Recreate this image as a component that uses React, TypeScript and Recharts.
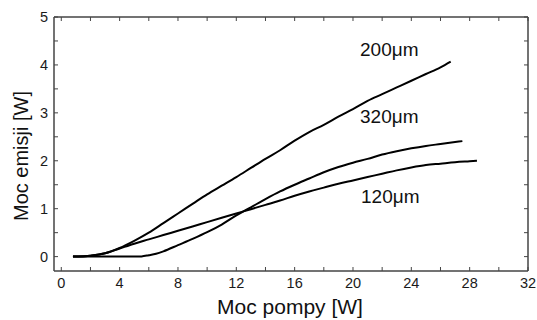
import React from 'react';
import { LineChart, Line, XAxis, YAxis } from 'recharts';

// Pump power [W] and emission power [W] for each fibre core diameter
const pump200 = [0.8, 1.5, 2, 3, 4, 5, 6, 7, 8, 9, 10, 11, 12, 13, 14, 15, 16, 17, 18, 19, 20, 21, 22, 23, 24, 25, 26, 26.7];
const emis200 = [0, 0.005, 0.02, 0.07, 0.18, 0.33, 0.5, 0.7, 0.9, 1.1, 1.3, 1.48, 1.66, 1.85, 2.04, 2.22, 2.42, 2.6, 2.75, 2.92, 3.08, 3.25, 3.39, 3.53, 3.67, 3.81, 3.95, 4.07];

const pump320 = [0.8, 2, 3, 4, 5, 5.5, 6, 6.5, 7, 8, 9, 10, 11, 12, 13, 14, 15, 16, 17, 18, 19, 20, 21, 22, 23, 24, 25, 26, 27, 27.5];
const emis320 = [0, 0, 0, 0, 0, 0.005, 0.03, 0.06, 0.11, 0.24, 0.37, 0.51, 0.67, 0.86, 1.03, 1.2, 1.36, 1.5, 1.63, 1.76, 1.87, 1.96, 2.04, 2.13, 2.2, 2.26, 2.31, 2.35, 2.39, 2.41];

const pump120 = [0.8, 2, 3, 4, 5, 6, 7, 8, 9, 10, 11, 12, 13, 14, 15, 16, 17, 18, 19, 20, 21, 22, 23, 24, 25, 26, 27, 28, 28.5];
const emis120 = [0, 0.02, 0.07, 0.17, 0.27, 0.36, 0.45, 0.54, 0.63, 0.72, 0.81, 0.9, 0.99, 1.08, 1.17, 1.27, 1.36, 1.44, 1.52, 1.59, 1.66, 1.73, 1.8, 1.86, 1.91, 1.94, 1.97, 1.99, 2.0];

const seriesNames = ['200\u03bcm', '320\u03bcm', '120\u03bcm'];

const xTicks = [0, 2, 4, 6, 8, 10, 12, 14, 16, 18, 20, 22, 24, 26, 28, 30, 32];
const yTicks = [0, 0.5, 1, 1.5, 2, 2.5, 3, 3.5, 4, 4.5, 5];

const xTitle = 'Moc pompy [W]';
const yTitle = 'Moc emisji [W]';

const zip = (xs: number[], ys: number[]) => xs.map((x, i) => ({ x, y: ys[i] }));
const data200 = zip(pump200, emis200);
const data320 = zip(pump320, emis320);
const data120 = zip(pump120, emis120);

const FONT = '"Liberation Sans", Arial, sans-serif';
const AXIS_COLOR = '#444';
const TICK_LEN = 4;

const makeTick = (side: 'bottom' | 'top' | 'left' | 'right') => (props: any) => {
  const { x, y, payload } = props;
  const v = payload.value;
  if (side === 'bottom') {
    const major = v % 4 === 0;
    return (
      <g>
        <line x1={x} y1={y} x2={x} y2={y - TICK_LEN} stroke={AXIS_COLOR} strokeWidth={1} />
        {major && (
          <text x={x} y={y + 17} textAnchor="middle" fontSize={14.5} fontFamily={FONT} fill="#1a1a1a">
            {v}
          </text>
        )}
      </g>
    );
  }
  if (side === 'top') {
    return <line x1={x} y1={y} x2={x} y2={y + TICK_LEN} stroke={AXIS_COLOR} strokeWidth={1} />;
  }
  if (side === 'left') {
    const major = Number.isInteger(v);
    return (
      <g>
        <line x1={x} y1={y} x2={x + TICK_LEN} y2={y} stroke={AXIS_COLOR} strokeWidth={1} />
        {major && (
          <text x={x - 6} y={y + 5} textAnchor="end" fontSize={14.5} fontFamily={FONT} fill="#1a1a1a">
            {v}
          </text>
        )}
      </g>
    );
  }
  return <line x1={x} y1={y} x2={x - TICK_LEN} y2={y} stroke={AXIS_COLOR} strokeWidth={1} />;
};

export default function App() {
  return (
    <div style={{ position: 'absolute', left: 0, top: 0, width: 537, height: 320, background: '#fff' }}>
      <LineChart width={537} height={320} margin={{ top: 15, right: 7, bottom: 0, left: 0 }}>
        <XAxis
          xAxisId="b"
          dataKey="x"
          type="number"
          domain={[-0.5, 32]}
          ticks={xTicks}
          interval={0}
          allowDataOverflow
          height={49}
          tickSize={0}
          tickMargin={0}
          tickLine={false}
          axisLine={{ stroke: AXIS_COLOR, strokeWidth: 1.5 }}
          tick={makeTick('bottom')}
        />
        <XAxis
          xAxisId="t"
          orientation="top"
          dataKey="x"
          type="number"
          domain={[-0.5, 32]}
          ticks={xTicks}
          interval={0}
          allowDataOverflow
          height={2}
          tickSize={0}
          tickMargin={0}
          tickLine={false}
          axisLine={{ stroke: AXIS_COLOR, strokeWidth: 1.5 }}
          tick={makeTick('top')}
        />
        <YAxis
          yAxisId="l"
          type="number"
          domain={[-0.3, 5]}
          ticks={yTicks}
          interval={0}
          allowDataOverflow
          width={54}
          tickSize={0}
          tickMargin={0}
          tickLine={false}
          axisLine={{ stroke: AXIS_COLOR, strokeWidth: 1.5 }}
          tick={makeTick('left')}
        />
        <YAxis
          yAxisId="r"
          orientation="right"
          type="number"
          domain={[-0.3, 5]}
          ticks={yTicks}
          interval={0}
          allowDataOverflow
          width={2}
          tickSize={0}
          tickMargin={0}
          tickLine={false}
          axisLine={{ stroke: AXIS_COLOR, strokeWidth: 1.5 }}
          tick={makeTick('right')}
        />
        <Line xAxisId="b" yAxisId="l" data={data200} dataKey="y" name={seriesNames[0]} type="monotone" stroke="#000" strokeWidth={2} dot={false} isAnimationActive={false} />
        <Line xAxisId="b" yAxisId="l" data={data320} dataKey="y" name={seriesNames[1]} type="monotone" stroke="#000" strokeWidth={2} dot={false} isAnimationActive={false} />
        <Line xAxisId="b" yAxisId="l" data={data120} dataKey="y" name={seriesNames[2]} type="monotone" stroke="#000" strokeWidth={2} dot={false} isAnimationActive={false} />
      </LineChart>
      <svg width={537} height={320} style={{ position: 'absolute', left: 0, top: 0, pointerEvents: 'none' }}>
        <text x={360} y={56} fontSize={19} fontFamily={FONT} fill="#111">{seriesNames[0]}</text>
        <text x={360} y={123} fontSize={19} fontFamily={FONT} fill="#111">{seriesNames[1]}</text>
        <text x={361} y={203} fontSize={19} fontFamily={FONT} fill="#111">{seriesNames[2]}</text>
        <text x={290} y={314} textAnchor="middle" fontSize={21} fontFamily={FONT} fill="#111">{xTitle}</text>
        <text transform="translate(28,156) rotate(-90)" textAnchor="middle" fontSize={20} fontFamily={FONT} fill="#111">{yTitle}</text>
      </svg>
    </div>
  );
}
